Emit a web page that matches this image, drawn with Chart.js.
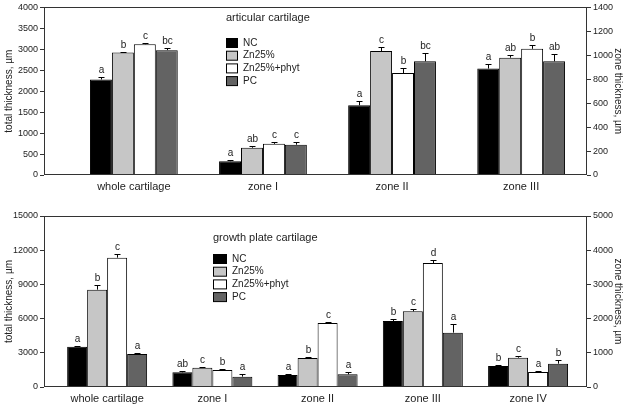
<!DOCTYPE html>
<html>
<head>
<meta charset="utf-8">
<script src="https://cdn.jsdelivr.net/npm/chart.js@4.4.0/dist/chart.umd.min.js"></script>
<style>
  body { margin: 0; background: #fff; }
  .panel { position: absolute; left: 0; width: 626px; }
</style>
</head>
<body>
<div class="panel" style="top:0;height:200px"><canvas id="artChart"></canvas></div>
<div class="panel" style="top:200px;height:204px"><canvas id="gpChart"></canvas></div>
<script>
const groups = ["NC", "Zn25%", "Zn25%+phyt", "PC"];
const groupColors = ["#000000", "#c6c6c6", "#ffffff", "#636363"];

// --- articular cartilage ---
const artCategories = ["whole cartilage", "zone I", "zone II", "zone III"];
const artNC = [2280, 115, 582, 889];
const artZn = [2925, 228, 1035, 980];
const artPhyt = [3122, 260, 851, 1054];
const artPC = [2980, 253, 950, 950];
const artNCErr = [57, 11, 33, 36];
const artZnErr = [16, 11, 38, 22];
const artPhytErr = [23, 16, 41, 33];
const artPCErr = [55, 22, 68, 57];
const artNCLetters = ["a", "a", "a", "a"];
const artZnLetters = ["b", "ab", "c", "ab"];
const artPhytLetters = ["c", "c", "b", "b"];
const artPCLetters = ["bc", "c", "bc", "ab"];

// --- growth plate cartilage ---
const gpCategories = ["whole cartilage", "zone I", "zone II", "zone III", "zone IV"];
const gpNC = [3540, 429, 351, 1930, 614];
const gpZn = [8540, 565, 848, 2212, 858];
const gpPhyt = [11345, 497, 1871, 3626, 439];
const gpPC = [2895, 302, 370, 1589, 682];
const gpNCErr = [88, 29, 19, 68, 29];
const gpZnErr = [380, 30, 29, 78, 39];
const gpPhytErr = [350, 29, 39, 78, 29];
const gpPCErr = [87, 68, 68, 243, 117];
const gpNCLetters = ["a", "ab", "a", "b", "b"];
const gpZnLetters = ["b", "c", "b", "c", "c"];
const gpPhytLetters = ["c", "b", "c", "d", "a"];
const gpPCLetters = ["a", "a", "a", "a", "b"];

const FONT = "'Liberation Sans', Arial, sans-serif";

// first category goes on the left (total) axis, the zones on the right axis
function buildDatasets(series, errs, letters) {
  const sets = [];
  series.forEach((vals, g) => {
    sets.push({
      label: groups[g], stack: groups[g], yAxisID: "yTotal",
      data: vals.map((v, i) => (i === 0 ? v : null)),
      errs: errs[g], letters: letters[g],
      backgroundColor: groupColors[g], borderColor: "#000", borderWidth: 1,
    });
  });
  series.forEach((vals, g) => {
    sets.push({
      label: groups[g], stack: groups[g], yAxisID: "yZone",
      data: vals.map((v, i) => (i === 0 ? null : v)),
      errs: errs[g], letters: letters[g],
      backgroundColor: groupColors[g], borderColor: "#000", borderWidth: 1,
    });
  });
  return sets;
}

const errorBarPlugin = {
  id: "errorBars",
  afterDatasetsDraw(chart) {
    const ctx = chart.ctx;
    ctx.save();
    ctx.strokeStyle = "#000";
    ctx.lineWidth = 1;
    ctx.fillStyle = "#222";
    ctx.font = "10px " + FONT;
    ctx.textAlign = "center";
    ctx.textBaseline = "bottom";
    chart.data.datasets.forEach((ds, di) => {
      const meta = chart.getDatasetMeta(di);
      const yScale = chart.scales[ds.yAxisID];
      ds.data.forEach((v, i) => {
        if (v === null) return;
        const bar = meta.data[i];
        const x = Math.round(bar.x) + 0.5;
        const yTop = yScale.getPixelForValue(v);
        const yErr = Math.round(yScale.getPixelForValue(v + ds.errs[i])) + 0.5;
        ctx.beginPath();
        ctx.moveTo(x, yTop);
        ctx.lineTo(x, yErr);
        ctx.moveTo(x - 3, yErr);
        ctx.lineTo(x + 3, yErr);
        ctx.stroke();
        ctx.fillText(ds.letters[i], x, yErr - 2);
      });
    });
    ctx.restore();
  },
};

const framePlugin = {
  id: "frame",
  afterDraw(chart, args, opts) {
    const ctx = chart.ctx;
    const a = chart.chartArea;
    ctx.save();
    ctx.strokeStyle = "#333";
    ctx.lineWidth = 1;
    ctx.strokeRect(Math.round(a.left) + 0.5, Math.round(a.top) + 0.5,
      Math.round(a.right - a.left) - 1, Math.round(a.bottom - a.top) - 1);
    // inside title + legend
    ctx.fillStyle = "#222";
    ctx.textBaseline = "middle";
    ctx.textAlign = "left";
    ctx.font = "11px " + FONT;
    ctx.fillText(opts.title, opts.x, opts.titleY);
    ctx.font = "10px " + FONT;
    groups.forEach((g, i) => {
      const y = opts.legendY + i * opts.rowGap;
      ctx.fillStyle = groupColors[i];
      ctx.fillRect(opts.x, y - 4.5, opts.boxW, 9);
      ctx.strokeStyle = "#000";
      ctx.strokeRect(opts.x + 0.5, y - 4.5, opts.boxW - 1, 9);
      ctx.fillStyle = "#222";
      ctx.fillText(g, opts.x + opts.boxW + 5, y);
    });
    ctx.restore();
  },
};

function makeChart(canvasId, cfg) {
  const positions = cfg.categories.map((c, i) => i + 1);
  const ctx = document.getElementById(canvasId).getContext("2d");
  return new Chart(ctx, {
    type: "bar",
    data: { labels: positions, datasets: buildDatasets(cfg.series, cfg.errs, cfg.letters) },
    options: {
      responsive: true,
      maintainAspectRatio: false,
      animation: false,
      categoryPercentage: cfg.groupWidth,
      barPercentage: 1,
      layout: { padding: { top: cfg.padTop, left: 0, right: 0, bottom: 0 } },
      plugins: {
        legend: { display: false },
        tooltip: { enabled: false },
        frame: cfg.frame,
      },
      scales: {
        x: {
          type: "linear",
          offset: false,
          min: cfg.xMin, max: cfg.xMax,
          grid: { display: false, drawTicks: false, offset: false },
          border: { display: false },
          afterBuildTicks: (s) => { s.ticks = positions.map((p) => ({ value: p })); },
          afterFit: (s) => { s.height = cfg.xHeight; },
          ticks: {
            autoSkip: false, maxRotation: 0, padding: 5,
            color: "#222", font: { family: FONT, size: 11 },
            callback: (v) => cfg.categories[v - 1] || "",
          },
        },
        yTotal: {
          position: "left", stacked: false,
          min: 0, max: cfg.totalMax,
          grid: { drawOnChartArea: false, tickLength: 4, tickColor: "#333" },
          border: { display: false },
          afterFit: (s) => { s.width = 44; },
          ticks: { stepSize: cfg.totalStep, padding: 2, color: "#222", font: { family: FONT, size: 9 }, callback: (v) => String(v) },
          title: { display: true, text: "total thickness, µm", color: "#222", font: { family: FONT, size: 10 }, padding: 3 },
        },
        yZone: {
          position: "right", stacked: false,
          min: 0, max: cfg.zoneMax,
          grid: { drawOnChartArea: false, tickLength: 4, tickColor: "#333" },
          border: { display: false },
          afterFit: (s) => { s.width = 39; },
          ticks: { stepSize: cfg.zoneStep, padding: 2, color: "#222", font: { family: FONT, size: 9 }, callback: (v) => String(v) },
          title: { display: true, text: "zone thickness, µm", color: "#222", font: { family: FONT, size: 10 }, padding: 2 },
        },
      },
    },
    plugins: [errorBarPlugin, framePlugin],
  });
}

makeChart("artChart", {
  categories: artCategories,
  series: [artNC, artZn, artPhyt, artPC],
  errs: [artNCErr, artZnErr, artPhytErr, artPCErr],
  letters: [artNCLetters, artZnLetters, artPhytLetters, artPCLetters],
  groupWidth: 0.68, xMin: 0.304, xMax: 4.51,
  padTop: 5, xHeight: 25,
  totalMax: 4000, totalStep: 500, zoneMax: 1400, zoneStep: 200,
  frame: { title: "articular cartilage", x: 226, titleY: 18, legendY: 43, rowGap: 12.7, boxW: 12 },
});

makeChart("gpChart", {
  categories: gpCategories,
  series: [gpNC, gpZn, gpPhyt, gpPC],
  errs: [gpNCErr, gpZnErr, gpPhytErr, gpPCErr],
  letters: [gpNCLetters, gpZnLetters, gpPhytLetters, gpPCLetters],
  groupWidth: 0.76, xMin: 0.40, xMax: 5.56,
  padTop: 16, xHeight: 17,
  totalMax: 15000, totalStep: 3000, zoneMax: 5000, zoneStep: 1000,
  frame: { title: "growth plate cartilage", x: 213, titleY: 38, legendY: 59, rowGap: 12.7, boxW: 14 },
});
</script>
</body>
</html>
